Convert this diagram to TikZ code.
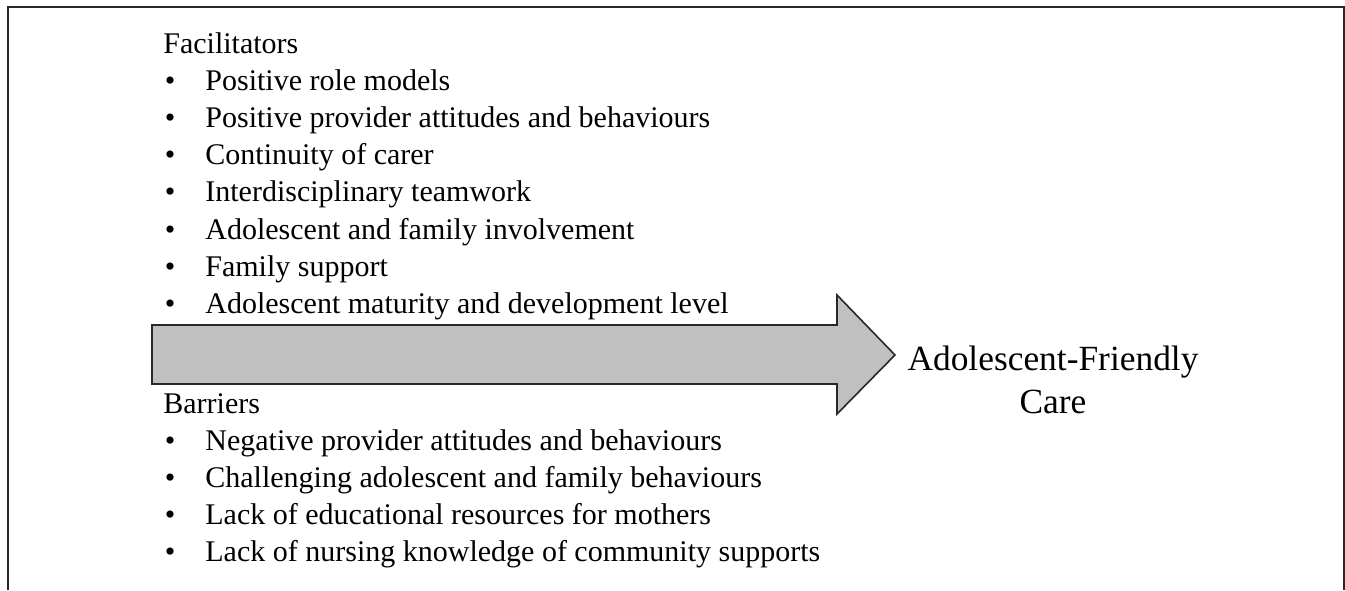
\documentclass[tikz,border=0pt]{standalone}
\usepackage{fontspec}
\setmainfont{Liberation Serif}
\usetikzlibrary{positioning}
\definecolor{ArrowGrey}{RGB}{192,192,192}
\definecolor{EdgeGrey}{RGB}{40,40,40}

\begin{document}
\begin{tikzpicture}[
  x=0.5pt, y=-0.5pt,
  font=\fontsize{15}{18}\selectfont,
  head/.style={anchor=base west, inner sep=0pt},
  item/.style={anchor=base west, inner sep=0pt},
  dot/.style={anchor=base, inner sep=0pt},
  flow/.style={draw=EdgeGrey, fill=ArrowGrey, line width=0.8pt, line join=miter},
  goal/.style={align=center, inner sep=0pt, font=\fontsize{17.7}{21.5}\selectfont},
]
\useasboundingbox (0,0) rectangle (1345,590);

% open frame, no bottom edge
\draw[line width=1pt, EdgeGrey] (8,590) -- (8,7) -- (1344,7) -- (1344,590);

% facilitators
\node[head] (facil) at (163,53) {Facilitators};
\foreach \txt [count=\i] in {Positive role models,
    Positive provider attitudes and behaviours,
    Continuity of carer,
    Interdisciplinary teamwork,
    Adolescent and family involvement,
    Family support,
    Adolescent maturity and development level} {
  \node[dot] (fdot-\i) at (170,{53+37.2*\i}) {\textbullet};
  \node[item] (facil-\i) at (205,{53+37.2*\i}) {\txt};
}

% barriers
\node[head] (barr) at (163,413) {Barriers};
\foreach \txt [count=\i] in {Negative provider attitudes and behaviours,
    Challenging adolescent and family behaviours,
    Lack of educational resources for mothers,
    Lack of nursing knowledge of community supports} {
  \node[dot] (bdot-\i) at (170,{413+37.2*\i}) {\textbullet};
  \node[item] (barr-\i) at (205,{413+37.2*\i}) {\txt};
}

% big block arrow into the outcome
\draw[flow] (152,325) -- (837,325) -- (837,295) -- (895,355)
  -- (837,414) -- (837,384) -- (152,384) -- cycle;
\coordinate (tip) at (895,355);

\node[goal, anchor=north] (afc) at (1053,346) {Adolescent-Friendly\\Care};
\end{tikzpicture}
\end{document}
